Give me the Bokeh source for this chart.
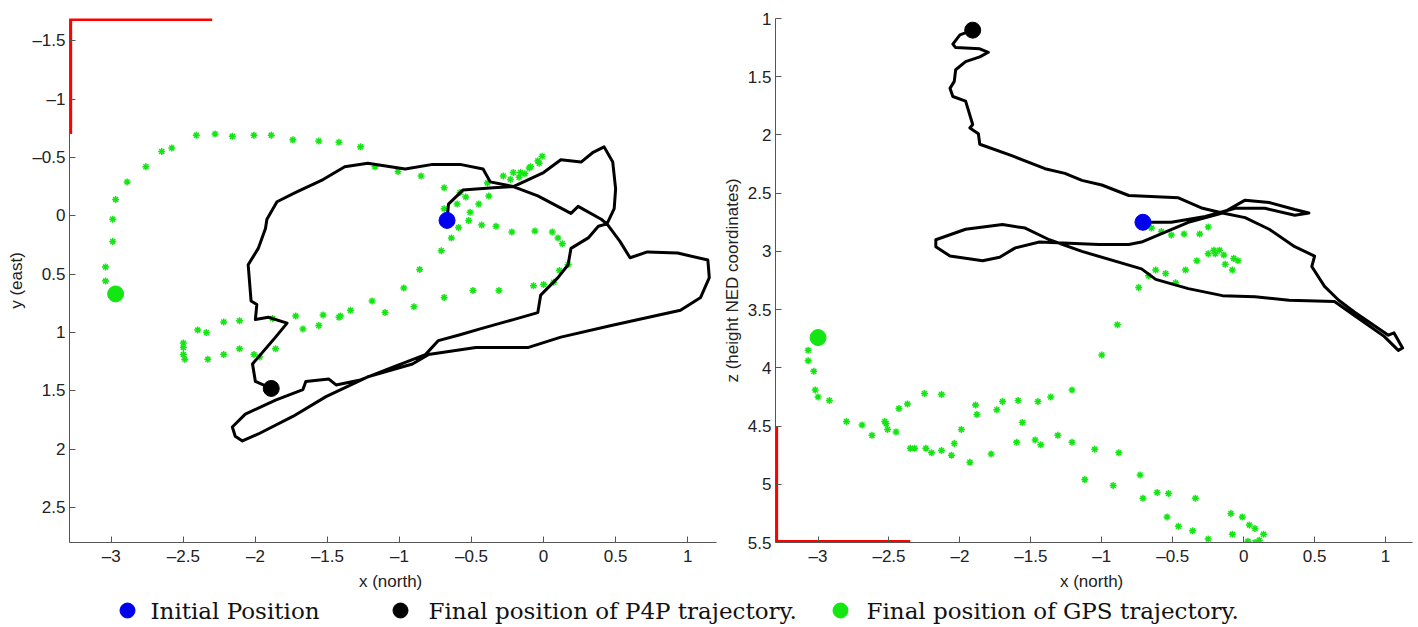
from bokeh.plotting import figure
from bokeh.layouts import column, row
from bokeh.models import Range1d, FixedTicker
from bokeh.embed import file_html
from bokeh.resources import INLINE
from bokeh.core.properties import value

# ---------------- data ----------------
# Left panel: P4P trajectory, x (north) vs y (east)
p4p_xy_x = [-0.67, -0.66, -0.56, -0.35, -0.21, 0.00, 0.12, 0.26, 0.34, 0.42, 0.48, 0.50, 0.49, 0.44,
            0.53, 0.60, 0.72, 0.93, 1.14, 1.15, 1.09, 0.95, 0.47, 0.12, -0.11, -0.47, -0.80, -0.91,
            -1.22, -1.51, -1.74, -1.98, -2.09, -2.14, -2.16, -2.07, -1.86, -1.67, -1.65, -1.49, -1.44,
            -1.28, -1.05, -0.82, -0.73, -0.58, -0.44, -0.21, -0.04, -0.02, 0.10, 0.17, 0.19, 0.31, 0.38,
            0.44, 0.40, 0.24, 0.19, -0.04, -0.21, -0.37, -0.42, -0.58, -0.77, -0.96, -1.22, -1.38, -1.53,
            -1.72, -1.85, -1.92, -1.93, -1.98, -2.05, -2.03, -1.99, -2.00, -1.91, -1.78, -1.86, -2.02,
            -2.00, -1.89]
p4p_xy_y = [0.04, -0.10, -0.22, -0.24, -0.25, -0.37, -0.48, -0.46, -0.54, -0.59, -0.46, -0.23, -0.06, 0.07,
            0.22, 0.36, 0.31, 0.32, 0.38, 0.53, 0.70, 0.81, 0.94, 1.04, 1.13, 1.13, 1.19, 1.27,
            1.38, 1.55, 1.72, 1.87, 1.93, 1.89, 1.81, 1.70, 1.58, 1.49, 1.42, 1.40, 1.45,
            1.41, 1.30, 1.19, 1.07, 1.02, 0.97, 0.89, 0.83, 0.68, 0.53, 0.42, 0.28, 0.19, 0.09,
            0.07, 0.03, -0.08, -0.02, -0.17, -0.25, -0.29, -0.40, -0.44, -0.44, -0.40, -0.45, -0.42, -0.31,
            -0.20, -0.12, 0.03, 0.11, 0.28, 0.42, 0.73, 0.76, 0.89, 0.87, 0.92, 1.04, 1.27,
            1.42, 1.48]

# Left panel: GPS trajectory samples
gps_xy_x = [-3.04, -3.04, -2.99, -2.99, -2.97, -2.89, -2.76, -2.65, -2.58, -2.41, -2.28, -2.16, -2.01,
            -1.89, -1.74, -1.56, -1.42, -1.27, -1.17, -1.01, -0.85, -0.69, -0.58, -0.54, -0.60, -0.69,
            -0.45, -0.38, -0.39, -0.28, -0.23, -0.21, -0.16, -0.17, -0.13, -0.10, -0.09, -0.04, -0.03,
            -0.01, -0.51, -0.52, -0.59, -0.64, -0.71, -0.86, -0.97, -1.10, -1.19, -1.34, -1.42, -1.41,
            -1.53, -1.56, -1.67, -1.72, -1.88, -2.11, -2.22, -2.34, -2.40, -2.50, -2.50, -2.50, -2.49,
            -2.33, -2.22, -2.11, -2.01, -1.97, -1.86, -0.90, -0.69, -0.49, -0.31, -0.07, 0.00, 0.07,
            0.11, 0.17, -0.43, -0.33, -0.22, -0.06, 0.06, 0.10, 0.13]
gps_xy_y = [0.56, 0.44, 0.22, 0.03, -0.14, -0.29, -0.42, -0.55, -0.58, -0.69, -0.70, -0.68, -0.69,
            -0.69, -0.65, -0.64, -0.63, -0.59, -0.42, -0.38, -0.34, -0.24, -0.20, -0.16, -0.10, -0.06,
            -0.10, -0.17, -0.28, -0.34, -0.31, -0.37, -0.37, -0.33, -0.36, -0.41, -0.42, -0.47, -0.45,
            -0.51, -0.03, 0.04, 0.10, 0.19, 0.30, 0.46, 0.62, 0.83, 0.73, 0.81, 0.87, 0.86,
            0.85, 0.94, 0.97, 0.86, 0.88, 0.90, 0.91, 1.00, 0.98, 1.09, 1.13, 1.19, 1.23,
            1.23, 1.19, 1.14, 1.19, 1.21, 1.14, 0.78, 0.70, 0.64, 0.64, 0.60, 0.59, 0.57,
            0.47, 0.42, 0.08, 0.09, 0.14, 0.13, 0.14, 0.19, 0.24]

# Right panel: P4P trajectory, x (north) vs z (height)
p4p_xz_x = [-0.71, -0.51, -0.27, -0.06, 0.15, 0.36, 0.46, 0.36, 0.18, 0.01, -0.15, -0.39, -0.72, -0.81,
            -1.02, -1.44, -1.61, -1.72, -1.84, -2.07, -2.17, -2.17, -1.96, -1.70, -1.54, -1.37, -1.14,
            -0.72, -0.62, -0.39, -0.15, 0.08, 0.32, 0.64, 0.78, 0.99, 1.09, 1.12, 1.06, 1.02, 0.78,
            0.67, 0.57, 0.48, 0.50, 0.36, 0.18, 0.01, -0.15, -0.29, -0.46, -0.81, -1.00, -1.14, -1.26,
            -1.40, -1.63, -1.86, -1.87, -1.93, -1.91, -1.96, -2.05, -2.07, -2.04, -2.03, -1.96, -1.86,
            -1.80, -1.86, -2.03, -2.05, -2.00, -1.91]
p4p_xz_z = [2.75, 2.75, 2.70, 2.63, 2.63, 2.69, 2.67, 2.64, 2.58, 2.56, 2.67, 2.75, 2.92, 2.94,
            2.94, 2.92, 2.97, 3.05, 3.08, 3.04, 2.96, 2.90, 2.81, 2.77, 2.80, 2.90, 3.00,
            3.15, 3.24, 3.32, 3.38, 3.39, 3.42, 3.43, 3.55, 3.73, 3.85, 3.83, 3.70, 3.72, 3.52,
            3.42, 3.30, 3.13, 3.04, 2.96, 2.81, 2.71, 2.67, 2.63, 2.54, 2.52, 2.43, 2.39, 2.33,
            2.29, 2.18, 2.08, 1.99, 1.94, 1.91, 1.71, 1.67, 1.60, 1.54, 1.44, 1.37, 1.33,
            1.29, 1.26, 1.25, 1.22, 1.14, 1.10]

# Right panel: GPS trajectory samples
gps_xz_x = [-3.07, -3.07, -3.03, -3.02, -3.00, -2.92, -2.80, -2.69, -2.62, -2.53, -2.52, -2.51, -2.45,
            -2.43, -2.37, -2.35, -2.32, -2.25, -2.24, -2.20, -2.13, -2.13, -2.06, -2.04, -1.99, -1.93,
            -1.89, -1.88, -1.78, -1.74, -1.70, -1.59, -1.56, -1.60, -1.47, -1.45, -1.43, -1.36, -1.31,
            -1.21, -1.21, -0.89, -1.00, -1.05, -0.88, -1.12, -0.92, -0.73, -0.71, -0.61, -0.53, -0.34,
            -0.54, -0.46, -0.36, -0.25, -0.09, -0.01, 0.04, 0.08, 0.14, -0.08, 0.03, 0.08, 0.11,
            -0.74, -0.67, -0.62, -0.55, -0.48, -0.41, -0.33, -0.25, -0.21, -0.20, -0.17, -0.14, -0.13,
            -0.07, -0.04, -0.08, -0.65, -0.58, -0.51, -0.42, -0.31, -0.25]
gps_xz_z = [3.85, 3.94, 4.03, 4.19, 4.25, 4.28, 4.46, 4.49, 4.58, 4.46, 4.48, 4.53, 4.55,
            4.35, 4.31, 4.69, 4.69, 4.22, 4.69, 4.73, 4.23, 4.71, 4.75, 4.65, 4.53, 4.81,
            4.32, 4.40, 4.74, 4.36, 4.29, 4.28, 4.47, 4.64, 4.62, 4.29, 4.66, 4.25, 4.58,
            4.64, 4.19, 3.63, 3.89, 4.70, 4.73, 4.96, 5.01, 4.92, 5.12, 5.07, 5.08, 5.12,
            5.28, 5.36, 5.40, 5.47, 5.25, 5.28, 5.35, 5.38, 5.43, 5.43, 5.49, 5.50, 5.48,
            3.31, 3.21, 3.16, 3.19, 3.27, 3.16, 3.08, 3.02, 2.99, 3.02, 2.99, 3.03, 3.11,
            3.06, 3.08, 3.16, 2.80, 2.83, 2.86, 2.85, 2.85, 2.79]

# Marked positions
initial_xy = (-0.67, 0.04)
final_p4p_xy = (-1.89, 1.48)
final_gps_xy = (-2.97, 0.67)
initial_xz = (-0.71, 2.75)
final_p4p_xz = (-1.91, 1.10)
final_gps_xz = (-3.00, 3.74)

# Red corner marks
red_xy_x = [-2.30, -3.282, -3.282]
red_xy_y = [-1.682, -1.682, -0.70]
red_xz_x = [-3.292, -3.292, -2.35]
red_xz_z = [4.50, 5.492, 5.492]

# Ticks
x_ticks = [-3, -2.5, -2, -1.5, -1, -0.5, 0, 0.5, 1]
x_tick_labels = ["\u20133", "\u20132.5", "\u20132", "\u20131.5", "\u20131", "\u20130.5", "0", "0.5", "1"]
y_ticks = [-1.5, -1, -0.5, 0, 0.5, 1, 1.5, 2, 2.5]
y_tick_labels = ["\u20131.5", "\u20131", "\u20130.5", "0", "0.5", "1", "1.5", "2", "2.5"]
z_ticks = [1, 1.5, 2, 2.5, 3, 3.5, 4, 4.5, 5, 5.5]
z_tick_labels = ["1", "1.5", "2", "2.5", "3", "3.5", "4", "4.5", "5", "5.5"]

legend_labels = ["Initial Position", "Final position of P4P trajectory.", "Final position of GPS trajectory."]

BLUE = "#0000ee"
GREEN = "#14e614"
BLACK = "#000000"
RED = "#ff0000"
AX = "#555555"
SANS = "Liberation Sans"


def style(p, xt, xl, yt, yl, xlabel, ylabel):
    p.grid.visible = False
    p.outline_line_color = None
    for ax, t, l in ((p.xaxis[0], xt, xl), (p.yaxis[0], yt, yl)):
        ax.ticker = FixedTicker(ticks=t)
        ax.major_label_overrides = dict(zip(t, l))
        ax.minor_tick_line_color = None
        ax.major_tick_in = 6
        ax.major_tick_out = 0
        ax.axis_line_color = AX
        ax.major_tick_line_color = AX
        ax.major_label_text_font = SANS
        ax.major_label_text_font_size = "17px"
        ax.major_label_text_color = "#222222"
        ax.axis_label_text_font = SANS
        ax.axis_label_text_font_size = "17px"
        ax.axis_label_text_font_style = "normal"
        ax.axis_label_text_color = "#222222"
        ax.major_label_standoff = 4
        ax.axis_label_standoff = 3
    p.xaxis[0].axis_label = xlabel
    p.yaxis[0].axis_label = ylabel


# ---------------- left panel ----------------
p1 = figure(width=719, height=593, output_backend="svg", toolbar_location=None,
            x_range=Range1d(-3.29, 1.2), y_range=Range1d(2.8, -1.69),
            min_border_left=69, min_border_right=3, min_border_top=18, min_border_bottom=46)
style(p1, x_ticks, x_tick_labels, y_ticks, y_tick_labels, "x  (north)", "y (east)")
p1.line(red_xy_x, red_xy_y, line_color=RED, line_width=3)
p1.scatter(gps_xy_x, gps_xy_y, marker="asterisk", size=7, line_color=GREEN, line_width=1.5)
p1.line(p4p_xy_x, p4p_xy_y, line_color=BLACK, line_width=3, line_join="round")
p1.scatter([initial_xy[0]], [initial_xy[1]], size=16, color=BLUE)
p1.scatter([final_p4p_xy[0]], [final_p4p_xy[1]], size=16, color=BLACK)
p1.scatter([final_gps_xy[0]], [final_gps_xy[1]], size=16, color=GREEN)

# ---------------- right panel ----------------
p2 = figure(width=697, height=593, output_backend="svg", toolbar_location=None,
            x_range=Range1d(-3.30, 1.19), y_range=Range1d(5.5, 1.0),
            min_border_left=53, min_border_right=4, min_border_top=16, min_border_bottom=46)
style(p2, x_ticks, x_tick_labels, z_ticks, z_tick_labels, "x  (north)", "z (height NED coordinates)")
p2.line(red_xz_x, red_xz_z, line_color=RED, line_width=3)
p2.scatter(gps_xz_x, gps_xz_z, marker="asterisk", size=7, line_color=GREEN, line_width=1.5)
p2.line(p4p_xz_x, p4p_xz_z, line_color=BLACK, line_width=3, line_join="round")
p2.scatter([initial_xz[0]], [initial_xz[1]], size=16, color=BLUE)
p2.scatter([final_p4p_xz[0]], [final_p4p_xz[1]], size=16, color=BLACK)
p2.scatter([final_gps_xz[0]], [final_gps_xz[1]], size=16, color=GREEN)

# ---------------- legend strip ----------------
leg = figure(width=1416, height=34, output_backend="svg", toolbar_location=None,
             x_range=Range1d(0, 1416), y_range=Range1d(0, 34),
             x_axis_type=None, y_axis_type=None, min_border=0)
leg.grid.visible = False
leg.outline_line_color = None
leg.scatter([127, 400, 840], [17, 17, 17], size=15, color=[BLUE, BLACK, GREEN])
leg.text([150, 428, 866], [17, 17, 17], text=legend_labels, text_font=value("DejaVu Serif"),
         text_font_size="23px", text_baseline="middle", text_align="left", text_color="#111111")

layout = column(row(p1, p2), leg)
open("out.html", "w").write(file_html(layout, INLINE))
